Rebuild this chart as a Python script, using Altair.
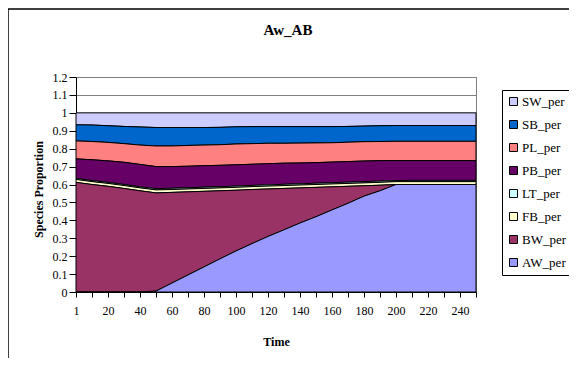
import altair as alt
import pandas as pd

categories = ["1", "10", "20", "30", "40", "50", "60", "70", "80", "90", "100",
              "110", "120", "130", "140", "150", "160", "170", "180", "190",
              "200", "210", "220", "230", "240", "250"]
label_ticks = ["1", "20", "40", "60", "80", "100", "120", "140", "160", "180",
               "200", "220", "240"]
y_ticks = [0, 0.1, 0.2, 0.3, 0.4, 0.5, 0.6, 0.7, 0.8, 0.9, 1.0, 1.1, 1.2]
chart_title = "Aw_AB"

AW = [0, 0, 0, 0, 0, 0.005, 0.05, 0.095, 0.14, 0.185, 0.229, 0.27, 0.31, 0.347,
      0.385, 0.42, 0.458, 0.495, 0.535, 0.565, 0.60, 0.60, 0.60, 0.60, 0.60, 0.60]
BW = [0.612, 0.600, 0.590, 0.578, 0.565, 0.548, 0.506, 0.464, 0.422, 0.380,
      0.339, 0.302, 0.265, 0.231, 0.196, 0.164, 0.129, 0.095, 0.058, 0.031,
      0, 0, 0, 0, 0, 0]
FB = [0.016, 0.016, 0.016, 0.016, 0.016, 0.017, 0.016, 0.016, 0.016, 0.016,
      0.016, 0.016, 0.016, 0.016, 0.016, 0.016, 0.016, 0.016, 0.016, 0.016,
      0.016, 0.016, 0.016, 0.016, 0.016, 0.016]
LT = [0.006, 0.006, 0.006, 0.006, 0.006, 0.007, 0.007, 0.007, 0.007, 0.007,
      0.007, 0.007, 0.007, 0.007, 0.007, 0.007, 0.007, 0.007, 0.007, 0.007,
      0.006, 0.007, 0.007, 0.007, 0.007, 0.007]
PB = [0.109, 0.116, 0.120, 0.124, 0.125, 0.123, 0.121, 0.120, 0.120, 0.119,
      0.119, 0.118, 0.118, 0.118, 0.116, 0.115, 0.115, 0.115, 0.115, 0.114,
      0.111, 0.110, 0.110, 0.110, 0.110, 0.110]
PL = [0.100, 0.102, 0.103, 0.104, 0.108, 0.115, 0.115, 0.116, 0.115, 0.115,
      0.116, 0.115, 0.114, 0.111, 0.111, 0.110, 0.108, 0.108, 0.108, 0.107,
      0.108, 0.108, 0.108, 0.108, 0.108, 0.108]
SB = [0.090, 0.092, 0.093, 0.096, 0.101, 0.103, 0.103, 0.100, 0.098, 0.097,
      0.096, 0.095, 0.093, 0.093, 0.092, 0.091, 0.090, 0.088, 0.087, 0.088,
      0.088, 0.088, 0.088, 0.088, 0.088, 0.088]
SW = [0.067, 0.068, 0.072, 0.076, 0.079, 0.082, 0.082, 0.082, 0.082, 0.081,
      0.078, 0.077, 0.077, 0.077, 0.077, 0.077, 0.077, 0.076, 0.074, 0.072,
      0.071, 0.071, 0.071, 0.071, 0.071, 0.071]

series_names = ["SW_per", "SB_per", "PL_per", "PB_per", "LT_per", "FB_per", "BW_per", "AW_per"]
series_values = [SW, SB, PL, PB, LT, FB, BW, AW]
series_colors = ["#CCCCFF", "#0066CC", "#FF8080", "#660066", "#CCFFFF", "#FFFFCC", "#993366", "#9999FF"]

rows = []
for k, (name, vals) in enumerate(zip(series_names, series_values)):
    for c, v in zip(categories, vals):
        rows.append({"Time": c, "series": name, "value": v, "stackorder": len(series_names) - k})
df = pd.DataFrame(rows)

FONT = "Liberation Serif"
W, H = 400, 215

label_expr = "indexof(" + str(label_ticks) + ", datum.label) >= 0 ? datum.label : ''"

areas = alt.Chart(df).mark_area(stroke="black", strokeWidth=1, opacity=1).encode(
    x=alt.X("Time:O", sort=categories,
            scale=alt.Scale(type="point", padding=0),
            axis=alt.Axis(title="Time", labelAngle=0, labelExpr=label_expr,
                          labelFont=FONT, labelFontSize=12, labelColor="black",
                          titleFont=FONT, titleFontSize=12, titleFontWeight="bold",
                          titleColor="black", titleX=200, titleY=49, titleBaseline="middle",
                          domainColor="black", tickColor="black", tickSize=5,
                          labelPadding=8, grid=False)),
    y=alt.Y("value:Q", stack="zero",
            scale=alt.Scale(domain=[0, 1.2], nice=False),
            axis=alt.Axis(title="Species Proportion", values=y_ticks, format="~g",
                          labelFont=FONT, labelFontSize=12, labelColor="black",
                          titleFont=FONT, titleFontSize=12, titleFontWeight="bold",
                          titleColor="black", titleX=-38, titleY=112, titleAngle=270,
                          titleBaseline="middle",
                          domainColor="black", tickColor="black", tickSize=7,
                          labelPadding=2, grid=True, gridColor="#808080", gridWidth=1)),
    color=alt.Color("series:N",
                    scale=alt.Scale(domain=series_names, range=series_colors),
                    legend=alt.Legend(title=None, orient="none", legendX=426, legendY=13,
                                      symbolType="square", symbolSize=64,
                                      symbolStrokeColor="black", symbolStrokeWidth=1,
                                      labelFont=FONT, labelFontSize=13, labelColor="black",
                                      rowPadding=9, padding=5, strokeColor="black",
                                      fillColor="white", labelOffset=2)),
    order=alt.Order("stackorder:Q", sort="ascending"),
)

title_df = pd.DataFrame({"t": [chart_title]})
title_mark = alt.Chart(title_df).mark_text(
    font=FONT, fontSize=15, fontWeight="bold", color="black",
    align="center", baseline="middle").encode(
    text="t:N", x=alt.value(212), y=alt.value(-47))

border_top = alt.Chart(title_df).mark_rule(color="black", strokeWidth=1.5).encode(
    x=alt.value(-68), x2=alt.value(501), y=alt.value(-68))
border_left = alt.Chart(title_df).mark_rule(color="black", strokeWidth=1.5).encode(
    x=alt.value(-68), y=alt.value(-68), y2=alt.value(281))

chart = alt.layer(areas, title_mark, border_top, border_left).properties(
    width=W, height=H,
    padding={"left": 68, "top": 69, "right": 93, "bottom": 66},
    autosize=alt.AutoSizeParams(type="none"),
).configure_view(stroke="#808080", strokeWidth=1)

chart.save("out.html", embed_options={"renderer": "svg", "actions": False})
